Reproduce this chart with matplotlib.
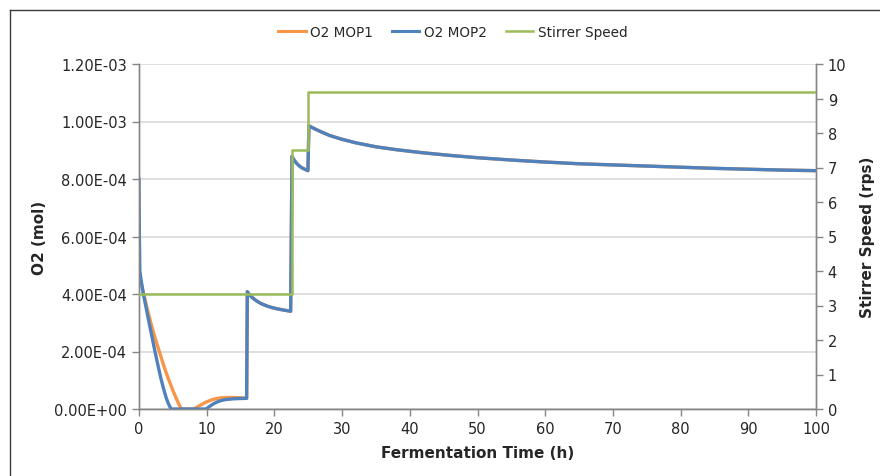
import matplotlib
matplotlib.use("Agg")
import matplotlib.pyplot as plt
from matplotlib.lines import Line2D

# Dissolved O2 for two MOPs (mol) and stirrer speed (rps) over fermentation time (h)
t_mop2 = [0, 0.05, 0.12, 0.3, 0.64, 1.0, 1.5, 2.0, 2.36, 2.8, 3.2, 3.6, 4.0, 4.3, 4.6, 4.8,
          9.9, 10.2, 10.6, 11.0, 11.5, 12.0, 12.5, 13.0, 14.0, 15.0, 15.9,
          16.0, 16.3, 16.7, 17.3, 18.0, 18.8, 19.6, 20.5, 21.4, 22.4,
          22.6, 22.9, 23.3, 23.8, 24.3, 24.95,
          25.1, 26.0, 27.0, 28.2, 30.0, 32.0, 35.0, 38.0, 42.0, 46.0, 50.0, 55.0,
          60.0, 65.0, 70.0, 75.0, 80.0, 85.0, 90.0, 95.0, 100.0]
o2_mop2 = [8.0e-4, 6.2e-4, 4.8e-4, 4.5e-4, 4.0e-4, 3.58e-4, 2.99e-4, 2.42e-4, 2.0e-4, 1.52e-4,
           1.1e-4, 7.3e-5, 4.0e-5, 2.1e-5, 6.0e-6, 0.0,
           0.0, 5.0e-6, 1.2e-5, 1.8e-5, 2.4e-5, 2.85e-5, 3.15e-5, 3.35e-5, 3.55e-5, 3.65e-5, 3.7e-5,
           4.08e-4, 3.98e-4, 3.88e-4, 3.77e-4, 3.67e-4, 3.59e-4, 3.53e-4, 3.48e-4, 3.44e-4, 3.40e-4,
           8.79e-4, 8.66e-4, 8.54e-4, 8.43e-4, 8.36e-4, 8.29e-4,
           9.85e-4, 9.74e-4, 9.63e-4, 9.51e-4, 9.38e-4, 9.26e-4, 9.12e-4, 9.02e-4, 8.91e-4,
           8.82e-4, 8.74e-4, 8.66e-4, 8.59e-4, 8.53e-4, 8.49e-4, 8.45e-4, 8.41e-4, 8.37e-4,
           8.34e-4, 8.31e-4, 8.29e-4]

t_mop1 = [0, 0.3, 0.7, 1.2, 1.8, 2.4, 3.0, 3.5, 4.0, 4.5, 5.0, 5.5, 5.9, 6.3,
          8.0, 8.4, 8.9, 9.5, 10.0, 10.5, 11.0, 11.5, 12.0, 13.0, 14.0, 15.0, 15.9]
o2_mop1 = [4.7e-4, 4.4e-4, 4.0e-4, 3.5e-4, 2.95e-4, 2.45e-4, 2.0e-4, 1.62e-4, 1.27e-4, 9.5e-5,
           6.5e-5, 3.7e-5, 1.6e-5, 0.0,
           0.0, 4.0e-6, 1.1e-5, 1.9e-5, 2.5e-5, 2.95e-5, 3.35e-5, 3.65e-5, 3.85e-5, 4.0e-5,
           4.0e-5, 3.9e-5, 3.8e-5]

t_stir = [0, 22.6, 22.6, 25.0, 25.0, 100]
stirrer = [3.33, 3.33, 7.5, 7.5, 9.2, 9.2]

x_ticks = [0, 10, 20, 30, 40, 50, 60, 70, 80, 90, 100]
o2_ticks = [0, 2e-4, 4e-4, 6e-4, 8e-4, 1.0e-3, 1.2e-3]
o2_tick_labels = ["0.00E+00", "2.00E-04", "4.00E-04", "6.00E-04", "8.00E-04", "1.00E-03", "1.20E-03"]
rps_ticks = list(range(0, 11))

c_orange = "#F79646"
c_blue = "#4F81BD"
c_green = "#9BBB59"
c_axis = "#868686"
c_grid = "#D9D9D9"
c_text = "#262626"

plt.rcParams["font.family"] = ["DejaVu Sans"]

fig = plt.figure(figsize=(8.8, 4.77), dpi=100)
ax = fig.add_axes([139 / 880, 1 - 410 / 477, (816 - 139) / 880, (410 - 65) / 477])

# MOP1 follows MOP2 once the feed step at 16 h is reached
i16 = t_mop2.index(16.0)
ax.plot(t_mop1 + t_mop2[i16:], o2_mop1 + o2_mop2[i16:],
        color=c_orange, lw=2.4, solid_joinstyle="round", zorder=3)
ax.plot(t_mop2, o2_mop2, color=c_blue, lw=2.4, solid_joinstyle="round", zorder=4)

ax.set_xlim(0, 100)
ax.set_ylim(0, 1.2e-3)
ax.set_xticks(x_ticks)
ax.set_yticks(o2_ticks)
ax.set_yticklabels(o2_tick_labels)
ax.yaxis.grid(True, color=c_grid, lw=1.2, zorder=0)
ax.set_axisbelow(True)

ax2 = ax.twinx()
ax2.plot(t_stir, stirrer, color=c_green, lw=1.8, zorder=5)
ax2.set_ylim(0, 10)
ax2.set_yticks(rps_ticks)

for a in (ax, ax2):
    for s in a.spines.values():
        s.set_color(c_axis)
        s.set_linewidth(1.0)
    a.spines["top"].set_visible(False)
    a.tick_params(axis="both", colors=c_axis, labelcolor=c_text, labelsize=10.5,
                  length=5, width=1.0, direction="out")
ax.tick_params(axis="x", pad=4)

ax.set_xlabel("Fermentation Time (h)", fontsize=11, fontweight="bold", color=c_text, labelpad=6)
ax.set_ylabel("O2 (mol)", fontsize=11, fontweight="bold", color=c_text, labelpad=5)
ax2.set_ylabel("Stirrer Speed (rps)", fontsize=11, fontweight="bold", color=c_text, labelpad=10)

handles = [Line2D([], [], color=c_orange, lw=2.2),
           Line2D([], [], color=c_blue, lw=2.2),
           Line2D([], [], color=c_green, lw=1.8)]
fig.legend(handles, ["O2 MOP1", "O2 MOP2", "Stirrer Speed"], loc="center",
           bbox_to_anchor=(453 / 880, 1 - 33 / 477), ncol=3, frameon=False,
           fontsize=9.8, handlelength=2.0, handletextpad=0.35, columnspacing=1.4,
           labelcolor=c_text)

# Chart frame edges
fig.add_artist(Line2D([10 / 880, 1], [1 - 11 / 477, 1 - 11 / 477], color="#3a3a3a", lw=1.0,
                      transform=fig.transFigure))
fig.add_artist(Line2D([10 / 880, 10 / 880], [0, 1 - 11 / 477], color="#3a3a3a", lw=1.0,
                      transform=fig.transFigure))

fig.savefig("out.png", dpi=100)
